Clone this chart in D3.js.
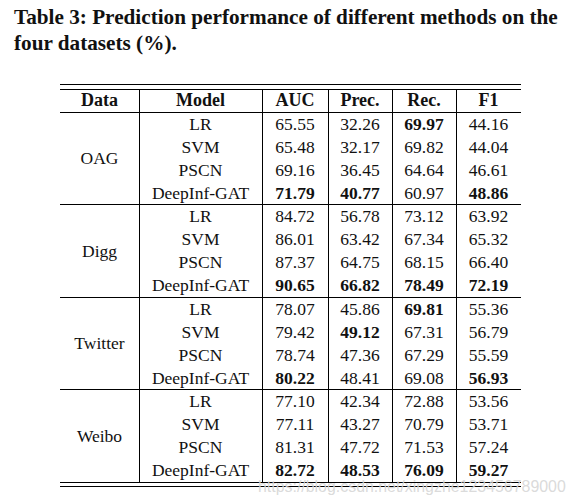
<!DOCTYPE html>
<html>
<head>
<meta charset="utf-8">
<script src="https://cdn.jsdelivr.net/npm/d3@7"></script>
<style>
  html, body { margin: 0; padding: 0; background: #fff; }
  svg { display: block; }
</style>
</head>
<body>
<svg id="chart" width="576" height="502"></svg>
<script>
// ---- data ----
const titleLines = [
  "Table 3: Prediction performance of different methods on the",
  "four datasets (%)."
];
const headers = ["Data", "Model", "AUC", "Prec.", "Rec.", "F1"];
const datasets = ["OAG", "Digg", "Twitter", "Weibo"];
const models = ["LR", "SVM", "PSCN", "DeepInf-GAT"];
const aucValues = [
  [65.55, 65.48, 69.16, 71.79],
  [84.72, 86.01, 87.37, 90.65],
  [78.07, 79.42, 78.74, 80.22],
  [77.10, 77.11, 81.31, 82.72]
];
const precValues = [
  [32.26, 32.17, 36.45, 40.77],
  [56.78, 63.42, 64.75, 66.82],
  [45.86, 49.12, 47.36, 48.41],
  [42.34, 43.27, 47.72, 48.53]
];
const recValues = [
  [69.97, 69.82, 64.64, 60.97],
  [73.12, 67.34, 68.15, 78.49],
  [69.81, 67.31, 67.29, 69.08],
  [72.88, 70.79, 71.53, 76.09]
];
const f1Values = [
  [44.16, 44.04, 46.61, 48.86],
  [63.92, 65.32, 66.40, 72.19],
  [55.36, 56.79, 55.59, 56.93],
  [53.56, 53.71, 57.24, 59.27]
];
const watermark = "https://blog.csdn.net/xingzhe123456789000";

// ---- layout ----
const svg = d3.select("#chart");
const serif = "'Liberation Serif', 'Times New Roman', serif";
const colEdges = [60, 139, 262, 328, 392, 456, 521];
const colIndex = d3.range(headers.length);
const xLeft = d3.scaleOrdinal().domain(colIndex).range(colEdges.slice(0, -1));
const xRight = d3.scaleOrdinal().domain(colIndex).range(colEdges.slice(1));
const xCenter = i => (xLeft(i) + xRight(i)) / 2;

const topLine1 = 84.5, topLine2 = 89, headBottom = 112.2;
const bodyBottom = 482.2, bottomLine2 = 486;
const yGroup = d3.scaleBand().domain(datasets).range([headBottom, bodyBottom]);
const yRow = d3.scaleBand().domain(models).range([0, yGroup.bandwidth()]);

const metricValues = [aucValues, precValues, recValues, f1Values];
const fmt = d3.format(".2f");

// ---- title ----
const titleSize = 20.5;
const title = svg.append("g");
titleLines.forEach((t, i) => {
  title.append("text")
    .attr("x", 14).attr("y", 24 + i * 26)
    .attr("font-family", serif).attr("font-weight", "bold")
    .attr("font-size", titleSize).attr("fill", "#111")
    .text(t);
});
const t0 = title.select("text").node();
const w0 = t0.getComputedTextLength();
title.selectAll("text").attr("font-size", titleSize * 544 / w0);

// ---- rules ----
const rules = svg.append("g").attr("stroke", "#000").attr("shape-rendering", "crispEdges");
const hline = (y, x1, x2, w) => rules.append("line")
  .attr("x1", x1).attr("x2", x2).attr("y1", y).attr("y2", y).attr("stroke-width", w || 1);
hline(topLine1, colEdges[0], colEdges[6], 1);
hline(topLine2, colEdges[0], colEdges[6], 1);
hline(headBottom, colEdges[0], colEdges[6], 1);
datasets.slice(1).forEach(d => hline(yGroup(d), colEdges[0], colEdges[6], 1));
hline(bodyBottom, colEdges[0], colEdges[6], 1);
hline(bottomLine2, colEdges[0], colEdges[6], 1);
colEdges.slice(1, -1).forEach(x => rules.append("line")
  .attr("x1", x).attr("x2", x).attr("y1", topLine2).attr("y2", bodyBottom)
  .attr("stroke-width", 1));

// ---- header ----
const fontSize = 17.5;
svg.append("g").selectAll("text").data(headers).join("text")
  .attr("x", (d, i) => xCenter(i))
  .attr("y", (topLine2 + headBottom) / 2 + 5.8)
  .attr("text-anchor", "middle")
  .attr("font-family", serif).attr("font-weight", "bold")
  .attr("font-size", 18).attr("fill", "#111")
  .text(d => d);

// ---- body ----
const body = svg.append("g").attr("font-family", serif).attr("font-size", fontSize).attr("fill", "#111");
datasets.forEach((ds, g) => {
  const gy = yGroup(ds);
  body.append("text")
    .attr("x", xCenter(0)).attr("y", gy + yGroup.bandwidth() / 2 + 5.8)
    .attr("text-anchor", "middle").text(ds);
  models.forEach((m, r) => {
    const cy = gy + yRow(m) + yRow.bandwidth() / 2 + 5.8;
    body.append("text")
      .attr("x", xCenter(1)).attr("y", cy)
      .attr("text-anchor", "middle").text(m);
    metricValues.forEach((vals, k) => {
      const colMax = d3.max(vals[g]);
      const v = vals[g][r];
      body.append("text")
        .attr("x", xCenter(k + 2)).attr("y", cy)
        .attr("text-anchor", "middle")
        .attr("font-weight", v === colMax ? "bold" : "normal")
        .text(fmt(v));
    });
  });
});

// ---- watermark ----
const wm = svg.append("text")
  .attr("x", 258).attr("y", 492)
  .attr("font-family", "'Liberation Sans', Arial, sans-serif")
  .attr("font-size", 16).attr("fill", "#d6d6d6").attr("fill-opacity", 0.9)
  .text(watermark);
const ww = wm.node().getComputedTextLength();
wm.attr("font-size", 16 * 308 / ww);
</script>
</body>
</html>
